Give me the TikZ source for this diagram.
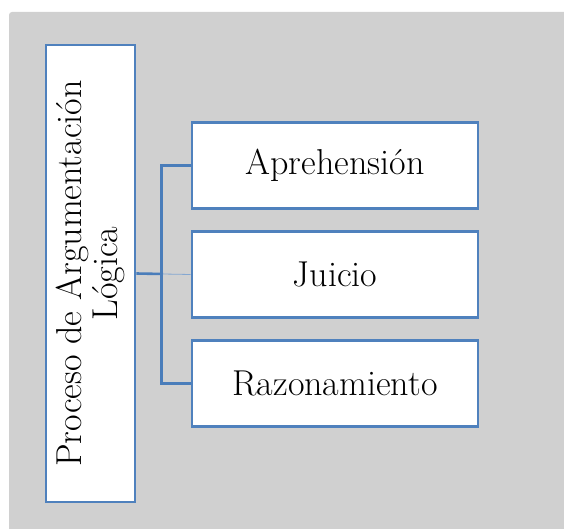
\documentclass[tikz,border=0pt]{standalone}
\usetikzlibrary{positioning}
\definecolor{boxblue}{HTML}{4F81BD}
\definecolor{linkblue}{HTML}{4A7DBA}
\definecolor{panel}{HTML}{D0D0D0}
\begin{document}
\begin{tikzpicture}[x=1pt, y=-1pt, node distance={109pt}, line width=2.6pt,
    main/.style = {draw=boxblue, fill=white, minimum width=286pt, minimum height=86pt,
                   inner sep=0pt, font=\fontsize{36}{40}\selectfont},
    link/.style = {draw=linkblue, line width=2.6pt}]
    \useasboundingbox (0,0) rectangle (564,529);
    \fill[white] (0,0) rectangle (564,529);
    \fill[panel, rounded corners=3pt] (9,12) rectangle (580,545);
    \node[draw=boxblue, fill=white, rotate=90, minimum width=457pt, minimum height=89pt,
          inner sep=0pt, align=center, font=\fontsize{36}{36}\selectfont]
          (proc) at (90.5,273.5) {Proceso de Argumentación\\Lógica};
    \node[main] (apre) at (335,165.5) {Aprehensión};
    \node[main] (juic) [below of=apre] {Juicio};
    \node[main] (razo) [below of=juic] {Razonamiento};
    \coordinate (hub) at (163,274);
    \draw[link] (apre.west) -- ++(-29,0) |- (razo.west);
    \draw[link] (proc.south) -- (hub);
    \draw[draw=boxblue!70, line width=0.8pt] (hub) -- (juic.west);
\end{tikzpicture}
\end{document}
